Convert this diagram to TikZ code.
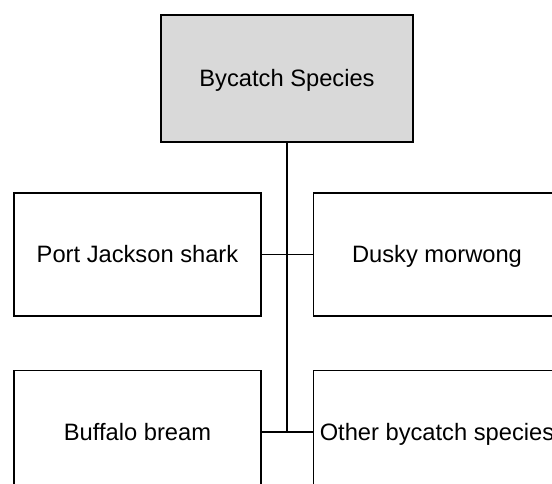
\documentclass[tikz,border=0pt]{standalone}
\usepackage{fontspec}
\setmainfont{Liberation Sans}
\usetikzlibrary{positioning}

\begin{document}
\begin{tikzpicture}[x=1pt,y=1pt,node distance=51pt,
		line width=1.5pt,
		species box/.style={rectangle,draw,minimum width=247pt,minimum height=123pt,
			inner sep=0pt,text height=17pt,text depth=0pt,font=\fontsize{23.7}{28}\selectfont},
		group box/.style={species box,fill={rgb,255:red,217;green,217;blue,217},
			minimum width=252pt,minimum height=127pt}]

		\clip (0,0) rectangle (552,484);
		\node[group box] (bycatch) at (287,405.5) {Bycatch Species};
		\node[species box] (jackson) at (137.5,229.5) {Port Jackson shark};
		\node[species box] (morwong) [right=of jackson] {Dusky morwong};
		\node[species box] (bream) [below=53pt of jackson] {Buffalo bream};
		\node[species box] (other) [right=of bream] {Other bycatch species};
		\coordinate (join) at (bycatch.south |- bream.east);

		\draw[line width=1.8pt] (bycatch) -- (join);
		\draw (jackson) -- (morwong);
		\draw (bream) -- (other);
		\end{tikzpicture}
\end{document}
